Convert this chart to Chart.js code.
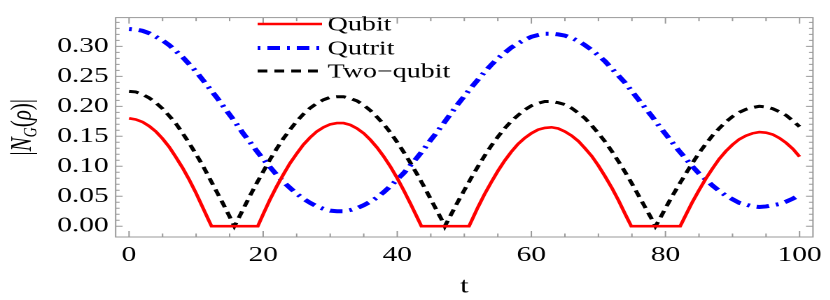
<!DOCTYPE html>
<html>
<head>
<meta charset="utf-8">
<script src="https://cdn.jsdelivr.net/npm/chart.js@4"></script>
<style>
  html, body { margin: 0; padding: 0; background: #fff; overflow: hidden; }
  #wrap {
    position: absolute; left: 0; top: 0;
    width: 593px; height: 300px;
    transform: scaleX(1.4); transform-origin: 0 0;
  }
</style>
</head>
<body>
<div id="wrap"><canvas id="chart"></canvas></div>
<script>
// time axis, one value per unit
const tValues = [
  0, 1, 2, 3, 4, 5, 6, 7, 8, 9,
  10, 11, 12, 13, 14, 15, 16, 17, 18, 19,
  20, 21, 22, 23, 24, 25, 26, 27, 28, 29,
  30, 31, 32, 33, 34, 35, 36, 37, 38, 39,
  40, 41, 42, 43, 44, 45, 46, 47, 48, 49,
  50, 51, 52, 53, 54, 55, 56, 57, 58, 59,
  60, 61, 62, 63, 64, 65, 66, 67, 68, 69,
  70, 71, 72, 73, 74, 75, 76, 77, 78, 79,
  80, 81, 82, 83, 84, 85, 86, 87, 88, 89,
  90, 91, 92, 93, 94, 95, 96, 97, 98, 99, 100];

const qubit = [
  0.180, 0.178, 0.174, 0.167, 0.158, 0.146, 0.132, 0.115, 0.097, 0.077,
  0.055, 0.031, 0.007, 0, 0, 0, 0, 0, 0, 0,
  0.020, 0.044, 0.066, 0.086, 0.105, 0.121, 0.136, 0.148, 0.158, 0.165,
  0.170, 0.172, 0.172, 0.169, 0.163, 0.155, 0.144, 0.131, 0.116, 0.099,
  0.080, 0.059, 0.037, 0.014, 0, 0, 0, 0, 0, 0,
  0, 0.007, 0.031, 0.053, 0.073, 0.092, 0.109, 0.124, 0.137, 0.147,
  0.155, 0.161, 0.164, 0.165, 0.163, 0.158, 0.151, 0.142, 0.130, 0.117,
  0.101, 0.083, 0.064, 0.043, 0.020, 0, 0, 0, 0, 0,
  0, 0, 0, 0.018, 0.040, 0.060, 0.079, 0.096, 0.112, 0.125,
  0.136, 0.145, 0.151, 0.155, 0.157, 0.156, 0.153, 0.147, 0.139, 0.129, 0.116];

const qutrit = [
  0.329, 0.328, 0.326, 0.322, 0.316, 0.310, 0.302, 0.292, 0.282, 0.270,
  0.258, 0.244, 0.230, 0.216, 0.201, 0.186, 0.171, 0.155, 0.141, 0.126,
  0.112, 0.099, 0.086, 0.074, 0.064, 0.054, 0.046, 0.039, 0.033, 0.029,
  0.026, 0.025, 0.025, 0.027, 0.030, 0.035, 0.041, 0.048, 0.057, 0.067,
  0.078, 0.089, 0.102, 0.115, 0.129, 0.144, 0.158, 0.173, 0.188, 0.203,
  0.217, 0.231, 0.244, 0.257, 0.269, 0.280, 0.289, 0.298, 0.305, 0.311,
  0.316, 0.319, 0.321, 0.321, 0.320, 0.318, 0.314, 0.309, 0.302, 0.294,
  0.285, 0.275, 0.263, 0.251, 0.239, 0.225, 0.211, 0.197, 0.183, 0.168,
  0.154, 0.140, 0.126, 0.113, 0.100, 0.088, 0.078, 0.068, 0.059, 0.051,
  0.045, 0.039, 0.036, 0.033, 0.032, 0.033, 0.035, 0.037, 0.041, 0.046, 0.052];

const twoQubit = [
  0.225, 0.224, 0.220, 0.214, 0.206, 0.196, 0.184, 0.171, 0.155, 0.138,
  0.120, 0.101, 0.080, 0.059, 0.038, 0.016, 0.006, 0.028, 0.050, 0.071,
  0.091, 0.111, 0.129, 0.146, 0.161, 0.175, 0.187, 0.197, 0.205, 0.211,
  0.215, 0.216, 0.216, 0.213, 0.209, 0.202, 0.193, 0.182, 0.170, 0.156,
  0.140, 0.123, 0.105, 0.086, 0.066, 0.045, 0.024, 0.003, 0.019, 0.040,
  0.060, 0.080, 0.099, 0.117, 0.134, 0.149, 0.163, 0.175, 0.185, 0.194,
  0.201, 0.205, 0.208, 0.208, 0.206, 0.203, 0.197, 0.189, 0.180, 0.168,
  0.155, 0.141, 0.125, 0.108, 0.090, 0.071, 0.051, 0.031, 0.011, 0.009,
  0.030, 0.050, 0.069, 0.087, 0.105, 0.122, 0.137, 0.151, 0.163, 0.174,
  0.183, 0.190, 0.195, 0.198, 0.200, 0.199, 0.196, 0.191, 0.185, 0.176, 0.166];

// where the curves touch zero between samples
const qubitZeroEdges = [12.3, 19.2, 43.6, 50.7, 74.9, 82.2];
const twoQubitZeros = [15.7, 47.1, 78.5];

const seriesNames = ['Qubit', 'Qutrit', 'Two\u2212qubit'];
const xTickStep = 20;
const yTickStep = 0.05;

const serif = "'Liberation Serif', 'Times New Roman', serif";

function toPoints(ys, zeroAt) {
  const pts = tValues.map((t, i) => ({ x: t, y: ys[i] }));
  (zeroAt || []).forEach(t => pts.push({ x: t, y: 0 }));
  return pts.sort((p, q) => p.x - q.x);
}

// frame with inward ticks on all four sides, legend and y title
const framePlugin = {
  id: 'frame',
  afterDatasetsDraw(chart) {
    const ctx = chart.ctx;
    const a = chart.chartArea;
    const xs = chart.scales.x, ys = chart.scales.y;
    ctx.save();
    ctx.strokeStyle = '#999';
    ctx.lineWidth = 1;
    ctx.strokeRect(a.left, a.top, a.right - a.left, a.bottom - a.top);
    ctx.beginPath();
    for (let v = 0; v <= 100; v += 5) {
      const px = xs.getPixelForValue(v);
      const len = v % 20 === 0 ? 6 : 3.5;
      ctx.moveTo(px, a.bottom); ctx.lineTo(px, a.bottom - len);
      ctx.moveTo(px, a.top); ctx.lineTo(px, a.top + len);
    }
    for (let k = 0; k <= 34; k++) {
      const py = ys.getPixelForValue(k / 100);
      const len = k % 5 === 0 ? 5 : 2.8;
      ctx.moveTo(a.left, py); ctx.lineTo(a.left + len, py);
      ctx.moveTo(a.right, py); ctx.lineTo(a.right - len, py);
    }
    ctx.stroke();
    ctx.restore();
  },
  afterDraw(chart) {
    const ctx = chart.ctx;
    const a = chart.chartArea;
    ctx.save();
    // legend
    const rows = [24, 48, 71];
    chart.data.datasets.forEach((ds, i) => {
      const y = rows[i];
      ctx.strokeStyle = ds.borderColor;
      ctx.lineWidth = ds.borderWidth;
      ctx.setLineDash(ds.borderDash || []);
      ctx.beginPath();
      ctx.moveTo(184, y); ctx.lineTo(230, y);
      ctx.stroke();
      ctx.setLineDash([]);
      ctx.fillStyle = '#000';
      ctx.font = '20px ' + serif;
      ctx.textBaseline = 'middle';
      ctx.textAlign = 'left';
      ctx.fillText(ds.label, 234, y + 1);
    });
    // y axis title |N_G(rho)|
    const cy = (a.top + a.bottom) / 2;
    ctx.translate(15, cy);
    ctx.rotate(-Math.PI / 2);
    const parts = [
      { s: '|', f: '21px ' + serif, dy: 0 },
      { s: 'N', f: 'italic 21px ' + serif, dy: 0 },
      { s: 'G', f: 'italic 14px ' + serif, dy: 4 },
      { s: '(', f: '21px ' + serif, dy: 0 },
      { s: '\u03C1', f: 'italic 21px ' + serif, dy: 0 },
      { s: ')', f: '21px ' + serif, dy: 0 },
      { s: '|', f: '21px ' + serif, dy: 0 }
    ];
    let total = 0;
    parts.forEach(p => { ctx.font = p.f; p.w = ctx.measureText(p.s).width; total += p.w; });
    let x = -total / 2;
    ctx.fillStyle = '#000';
    ctx.textBaseline = 'alphabetic';
    ctx.textAlign = 'left';
    parts.forEach(p => {
      ctx.font = p.f;
      ctx.fillText(p.s, x, 7 + p.dy);
      x += p.w;
    });
    ctx.restore();
  }
};

const ctx = document.getElementById('chart').getContext('2d');
new Chart(ctx, {
  type: 'line',
  data: {
    datasets: [
      {
        label: seriesNames[0],
        data: toPoints(qubit, qubitZeroEdges),
        borderColor: '#ff0000',
        borderWidth: 2.6
      },
      {
        label: seriesNames[1],
        data: toPoints(qutrit),
        borderColor: '#0000ff',
        borderWidth: 4,
        borderDash: [2, 5, 9, 5]
      },
      {
        label: seriesNames[2],
        data: toPoints(twoQubit, twoQubitZeros),
        borderColor: '#000000',
        borderWidth: 3,
        borderDash: [7, 5]
      }
    ]
  },
  options: {
    responsive: true,
    maintainAspectRatio: false,
    animation: false,
    devicePixelRatio: 2,
    layout: { padding: { top: 1, right: 7, left: 0, bottom: 0 } },
    elements: { point: { radius: 0 }, line: { tension: 0 } },
    plugins: {
      legend: { display: false },
      tooltip: { enabled: false }
    },
    scales: {
      x: {
        type: 'linear',
        min: -2,
        max: 102,
        grid: { display: false, drawTicks: false },
        border: { display: false },
        ticks: {
          stepSize: xTickStep,
          includeBounds: false,
          maxRotation: 0,
          padding: 6,
          color: '#000',
          font: { family: serif, size: 21 }
        },
        title: {
          display: true,
          text: 't',
          color: '#000',
          font: { family: serif, size: 22 },
          padding: { top: 0, bottom: 0 }
        },
        afterFit(scale) { scale.height = 63; }
      },
      y: {
        type: 'linear',
        min: -0.018,
        max: 0.348,
        grid: { display: false, drawTicks: false },
        border: { display: false },
        ticks: {
          stepSize: yTickStep,
          includeBounds: false,
          padding: 5,
          color: '#000',
          font: { family: serif, size: 21 },
          callback: v => v.toFixed(2)
        },
        afterFit(scale) { scale.width = 82.6; }
      }
    }
  },
  plugins: [framePlugin]
});
</script>
</body>
</html>
